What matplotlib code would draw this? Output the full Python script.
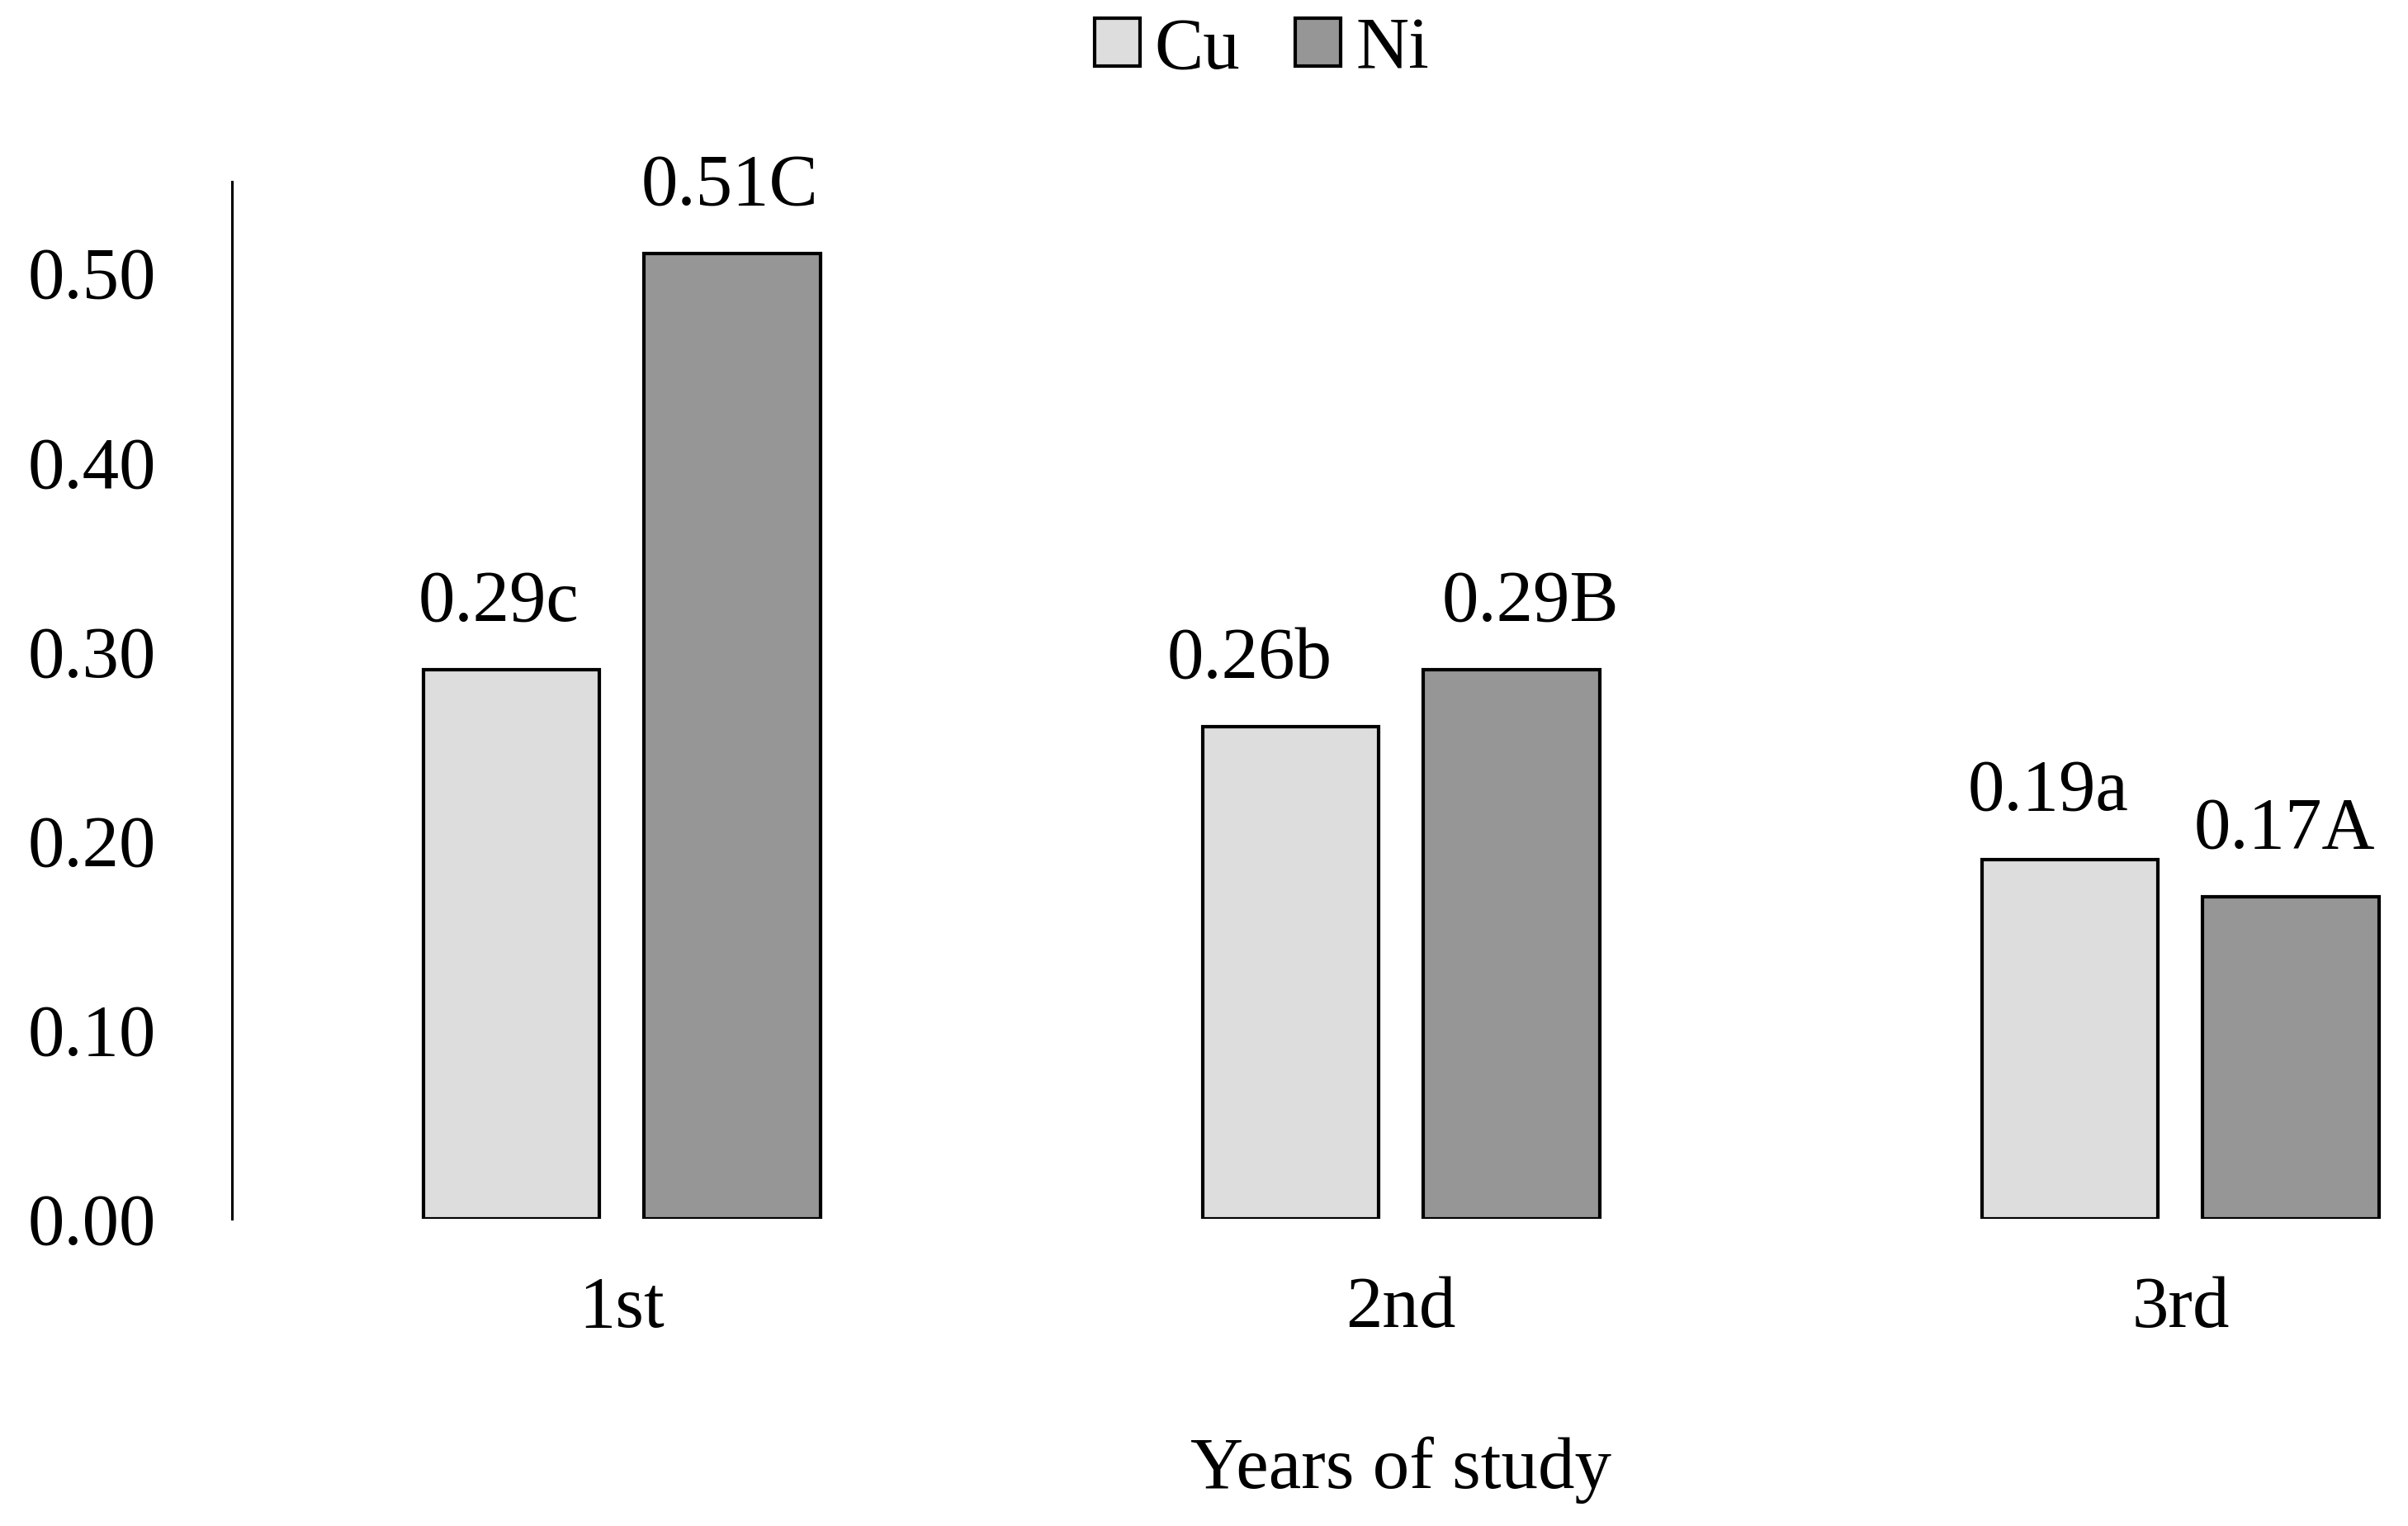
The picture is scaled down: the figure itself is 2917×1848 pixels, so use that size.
import numpy as np
import matplotlib
matplotlib.use("Agg")
import matplotlib.pyplot as plt

years = ['1st', '2nd', '3rd']
cu_vals = [0.29, 0.26, 0.19]
ni_vals = [0.51, 0.29, 0.17]
cu_letters = ['c', 'b', 'a']
ni_letters = ['C', 'B', 'A']
yticks = [0.0, 0.1, 0.2, 0.3, 0.4, 0.5]

plt.rcParams['font.family'] = ['Liberation Serif', 'DejaVu Serif']
fs = 64

fig = plt.figure(figsize=(29.17, 18.48), dpi=100)
ax = fig.add_axes([281 / 2917, 1 - 1476 / 1848, 1 - 281 / 2917, (1476 - 220) / 1848])

x = np.arange(len(years))
w = 0.226
off = 0.1417
bars_cu = ax.bar(x - off, cu_vals, w, color='#dddddd', edgecolor='black', linewidth=3.0, label='Cu')
bars_ni = ax.bar(x + off, ni_vals, w, color='#969696', edgecolor='black', linewidth=3.0, label='Ni')

# small manual nudges of the value labels, as in the original
cu_dx = [-0.016, -0.053, -0.028]
ni_dx = [-0.003, 0.024, -0.008]
for i in range(len(years)):
    ax.text(x[i] - off + cu_dx[i], cu_vals[i] + 0.026, '{:.2f}{}'.format(cu_vals[i], cu_letters[i]),
            ha='center', va='baseline', fontsize=fs)
    ax.text(x[i] + off + ni_dx[i], ni_vals[i] + 0.026, '{:.2f}{}'.format(ni_vals[i], ni_letters[i]),
            ha='center', va='baseline', fontsize=fs)

ax.set_xlim(-0.5, 2.292)
ax.set_ylim(0, 0.548)
ax.set_yticks(yticks)
ax.set_yticklabels(['{:.2f}'.format(v) for v in yticks], fontsize=fs)
ax.set_xticks(x)
ax.set_xticklabels(years, fontsize=fs)
ax.tick_params(axis='y', length=0, pad=66)
ax.tick_params(axis='x', length=0, pad=50)

for s in ['top', 'right', 'bottom']:
    ax.spines[s].set_visible(False)
ax.spines['left'].set_linewidth(2.2)

# x label is centred on the full axes, which run past the right edge of the picture
fig.text(0.5816, 1 - 1780 / 1848, 'Years of study', ha='center', va='center', fontsize=fs)

fig.legend(handles=[bars_cu, bars_ni], labels=['Cu', 'Ni'], loc='center',
           bbox_to_anchor=(0.524, 0.967), ncol=2, frameon=False, fontsize=fs,
           handlelength=0.62, handleheight=0.62, handletextpad=0.2, columnspacing=0.75)

fig.savefig('out.png', dpi=100)
